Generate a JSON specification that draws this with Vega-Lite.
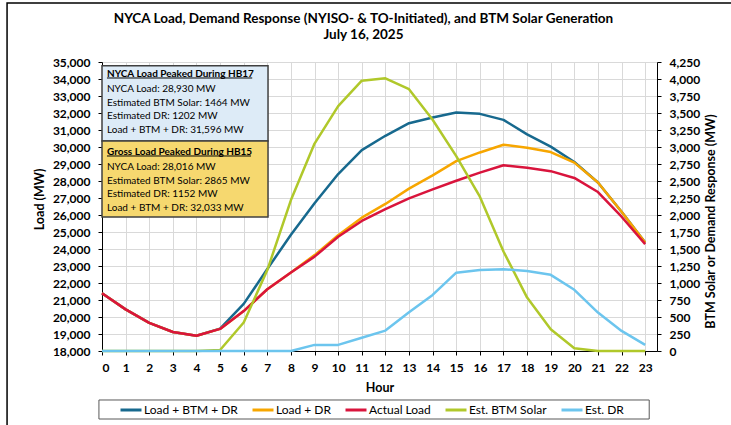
{
  "$schema": "https://vega.github.io/schema/vega-lite/v6.json",
  "width": 555,
  "height": 289,
  "autosize": {"type": "none"},
  "padding": {"left": 102, "top": 62, "right": 74, "bottom": 74},
  "background": "white",
  "config": {
    "font": "Lato",
    "view": {"stroke": null},
    "axis": {
      "labelFont": "Lato", "labelFontWeight": "bold", "labelFontSize": 12, "labelColor": "#000000",
      "titleFont": "Lato", "titleFontWeight": "bold", "titleFontSize": 12.5, "titleColor": "#000000",
      "domainColor": "#000000", "domainWidth": 1, "tickColor": "#000000", "tickSize": 4,
      "gridColor": "#d9d9d9", "gridWidth": 1, "labelOverlap": false
    }
  },
  "title": {
    "text": ["NYCA Load, Demand Response (NYISO- & TO-Initiated), and BTM Solar Generation", "July 16, 2025"],
    "font": "Lato", "fontSize": 13.5, "fontWeight": "bold", "color": "#000000",
    "anchor": "middle", "dx": -16, "offset": -39.5, "lineHeight": 16
  },
  "datasets": {
    "hourly": [
      {"hour": 0, "actual": 21400, "solar": 0, "dr": 0, "load_dr": 21400, "total": 21400},
      {"hour": 1, "actual": 20450, "solar": 0, "dr": 0, "load_dr": 20450, "total": 20450},
      {"hour": 2, "actual": 19650, "solar": 0, "dr": 0, "load_dr": 19650, "total": 19650},
      {"hour": 3, "actual": 19120, "solar": 0, "dr": 0, "load_dr": 19120, "total": 19120},
      {"hour": 4, "actual": 18900, "solar": 0, "dr": 0, "load_dr": 18900, "total": 18900},
      {"hour": 5, "actual": 19300, "solar": 15, "dr": 0, "load_dr": 19300, "total": 19315},
      {"hour": 6, "actual": 20350, "solar": 420, "dr": 0, "load_dr": 20350, "total": 20770},
      {"hour": 7, "actual": 21630, "solar": 1190, "dr": 0, "load_dr": 21630, "total": 22820},
      {"hour": 8, "actual": 22620, "solar": 2220, "dr": 0, "load_dr": 22620, "total": 24840},
      {"hour": 9, "actual": 23550, "solar": 3050, "dr": 90, "load_dr": 23640, "total": 26690},
      {"hour": 10, "actual": 24720, "solar": 3600, "dr": 90, "load_dr": 24810, "total": 28410},
      {"hour": 11, "actual": 25650, "solar": 3975, "dr": 195, "load_dr": 25845, "total": 29820},
      {"hour": 12, "actual": 26350, "solar": 4010, "dr": 300, "load_dr": 26650, "total": 30660},
      {"hour": 13, "actual": 26980, "solar": 3850, "dr": 570, "load_dr": 27550, "total": 31400},
      {"hour": 14, "actual": 27510, "solar": 3400, "dr": 825, "load_dr": 28335, "total": 31735},
      {"hour": 15, "actual": 28016, "solar": 2865, "dr": 1152, "load_dr": 29168, "total": 32033},
      {"hour": 16, "actual": 28490, "solar": 2270, "dr": 1190, "load_dr": 29680, "total": 31950},
      {"hour": 17, "actual": 28930, "solar": 1464, "dr": 1202, "load_dr": 30132, "total": 31596},
      {"hour": 18, "actual": 28780, "solar": 785, "dr": 1175, "load_dr": 29955, "total": 30740},
      {"hour": 19, "actual": 28580, "solar": 320, "dr": 1120, "load_dr": 29700, "total": 30020},
      {"hour": 20, "actual": 28180, "solar": 40, "dr": 900, "load_dr": 29080, "total": 29120},
      {"hour": 21, "actual": 27350, "solar": 0, "dr": 565, "load_dr": 27915, "total": 27915},
      {"hour": 22, "actual": 25900, "solar": 0, "dr": 295, "load_dr": 26195, "total": 26195},
      {"hour": 23, "actual": 24290, "solar": 0, "dr": 90, "load_dr": 24380, "total": 24380}
    ],
    "boxes": [
      {"box": "HB17", "x": 0, "x2": 7.03, "y": 30353, "y2": 34780},
      {"box": "HB15", "x": 0, "x2": 7.03, "y": 25882, "y2": 30353}
    ],
    "notes": [
      {"box": "HB17", "kind": "header", "text": "NYCA Load Peaked During HB17", "hour": 0.21, "mw": 34294},
      {"box": "HB17", "kind": "body", "text": "NYCA Load: 28,930 MW", "hour": 0.21, "mw": 33412},
      {"box": "HB17", "kind": "body", "text": "Estimated BTM Solar: 1464 MW", "hour": 0.21, "mw": 32588},
      {"box": "HB17", "kind": "body", "text": "Estimated DR: 1202 MW", "hour": 0.21, "mw": 31824},
      {"box": "HB17", "kind": "body", "text": "Load + BTM + DR: 31,596 MW", "hour": 0.21, "mw": 31000},
      {"box": "HB15", "kind": "header", "text": "Gross Load Peaked During HB15", "hour": 0.21, "mw": 29706},
      {"box": "HB15", "kind": "body", "text": "NYCA Load: 28,016 MW", "hour": 0.21, "mw": 28824},
      {"box": "HB15", "kind": "body", "text": "Estimated BTM Solar: 2865 MW", "hour": 0.21, "mw": 28000},
      {"box": "HB15", "kind": "body", "text": "Estimated DR: 1152 MW", "hour": 0.21, "mw": 27235},
      {"box": "HB15", "kind": "body", "text": "Load + BTM + DR: 32,033 MW", "hour": 0.21, "mw": 26412}
    ],
    "underlines": [
      {"box": "HB17", "x": 0.21, "x2": 6.36, "mw": 34059},
      {"box": "HB15", "x": 0.21, "x2": 6.31, "mw": 29471}
    ]
  },
  "layer": [
    {
      "layer": [
        {
          "data": {"name": "hourly"},
          "mark": {"type": "line", "strokeWidth": 2.5, "strokeJoin": "round"},
          "encoding": {
            "x": {"field": "hour", "type": "quantitative", "scale": {"domain": [0, 23.5], "nice": false, "zero": false}, "axis": {"values": [0,1,2,3,4,5,6,7,8,9,10,11,12,13,14,15,16,17,18,19,20,21,22,23], "title": "Hour", "labelPadding": 7, "titlePadding": 8, "grid": true}},
            "y": {"field": "total", "type": "quantitative", "scale": {"domain": [18000, 35000], "nice": false, "zero": false}, "axis": {"orient": "left", "values": [18000,19000,20000,21000,22000,23000,24000,25000,26000,27000,28000,29000,30000,31000,32000,33000,34000,35000], "format": ",d", "title": "Load (MW)", "titleY": 137, "labelPadding": 8, "titlePadding": 6, "grid": true}},
            "color": {"datum": "Load + BTM + DR", "type": "nominal"}
          }
        },
        {
          "data": {"name": "hourly"},
          "mark": {"type": "line", "strokeWidth": 2.5, "strokeJoin": "round"},
          "encoding": {
            "x": {"field": "hour", "type": "quantitative", "axis": {"values": [0,1,2,3,4,5,6,7,8,9,10,11,12,13,14,15,16,17,18,19,20,21,22,23], "title": "Hour", "labelPadding": 7, "titlePadding": 8, "grid": true}},
            "y": {"field": "load_dr", "type": "quantitative", "axis": {"orient": "left", "values": [18000,19000,20000,21000,22000,23000,24000,25000,26000,27000,28000,29000,30000,31000,32000,33000,34000,35000], "format": ",d", "title": "Load (MW)", "titleY": 137, "labelPadding": 8, "titlePadding": 6, "grid": true}},
            "color": {"datum": "Load + DR", "type": "nominal"}
          }
        },
        {
          "data": {"name": "hourly"},
          "mark": {"type": "line", "strokeWidth": 2.5, "strokeJoin": "round"},
          "encoding": {
            "x": {"field": "hour", "type": "quantitative", "axis": {"values": [0,1,2,3,4,5,6,7,8,9,10,11,12,13,14,15,16,17,18,19,20,21,22,23], "title": "Hour", "labelPadding": 7, "titlePadding": 8, "grid": true}},
            "y": {"field": "actual", "type": "quantitative", "axis": {"orient": "left", "values": [18000,19000,20000,21000,22000,23000,24000,25000,26000,27000,28000,29000,30000,31000,32000,33000,34000,35000], "format": ",d", "title": "Load (MW)", "titleY": 137, "labelPadding": 8, "titlePadding": 6, "grid": true}},
            "color": {"datum": "Actual Load", "type": "nominal"}
          }
        },
        {
          "data": {"name": "boxes"},
          "mark": {"type": "rect", "stroke": "#404040", "strokeWidth": 1.5},
          "encoding": {
            "x": {"field": "x", "type": "quantitative", "axis": {"values": [0,1,2,3,4,5,6,7,8,9,10,11,12,13,14,15,16,17,18,19,20,21,22,23], "title": "Hour", "labelPadding": 7, "titlePadding": 8, "grid": true}},
            "x2": {"field": "x2"},
            "y": {"field": "y", "type": "quantitative", "axis": {"orient": "left", "values": [18000,19000,20000,21000,22000,23000,24000,25000,26000,27000,28000,29000,30000,31000,32000,33000,34000,35000], "format": ",d", "title": "Load (MW)", "titleY": 137, "labelPadding": 8, "titlePadding": 6, "grid": true}},
            "y2": {"field": "y2"},
            "fill": {"field": "box", "type": "nominal", "scale": {"domain": ["HB17", "HB15"], "range": ["#ddebf7", "#f6d86f"]}, "legend": null}
          }
        },
        {
          "data": {"name": "notes"},
          "transform": [{"filter": "datum.kind === 'header'"}],
          "mark": {"type": "text", "align": "left", "baseline": "middle", "font": "Lato", "fontSize": 10, "fontWeight": "bold", "color": "#000000"},
          "encoding": {
            "x": {"field": "hour", "type": "quantitative", "axis": {"values": [0,1,2,3,4,5,6,7,8,9,10,11,12,13,14,15,16,17,18,19,20,21,22,23], "title": "Hour", "labelPadding": 7, "titlePadding": 8, "grid": true}},
            "y": {"field": "mw", "type": "quantitative", "axis": {"orient": "left", "values": [18000,19000,20000,21000,22000,23000,24000,25000,26000,27000,28000,29000,30000,31000,32000,33000,34000,35000], "format": ",d", "title": "Load (MW)", "titleY": 137, "labelPadding": 8, "titlePadding": 6, "grid": true}},
            "text": {"field": "text"}
          }
        },
        {
          "data": {"name": "notes"},
          "transform": [{"filter": "datum.kind === 'body'"}],
          "mark": {"type": "text", "align": "left", "baseline": "middle", "font": "Lato", "fontSize": 10, "color": "#000000"},
          "encoding": {
            "x": {"field": "hour", "type": "quantitative", "axis": {"values": [0,1,2,3,4,5,6,7,8,9,10,11,12,13,14,15,16,17,18,19,20,21,22,23], "title": "Hour", "labelPadding": 7, "titlePadding": 8, "grid": true}},
            "y": {"field": "mw", "type": "quantitative", "axis": {"orient": "left", "values": [18000,19000,20000,21000,22000,23000,24000,25000,26000,27000,28000,29000,30000,31000,32000,33000,34000,35000], "format": ",d", "title": "Load (MW)", "titleY": 137, "labelPadding": 8, "titlePadding": 6, "grid": true}},
            "text": {"field": "text"}
          }
        },
        {
          "data": {"name": "underlines"},
          "mark": {"type": "rule", "color": "#000000", "strokeWidth": 1},
          "encoding": {
            "x": {"field": "x", "type": "quantitative", "axis": {"values": [0,1,2,3,4,5,6,7,8,9,10,11,12,13,14,15,16,17,18,19,20,21,22,23], "title": "Hour", "labelPadding": 7, "titlePadding": 8, "grid": true}},
            "x2": {"field": "x2"},
            "y": {"field": "mw", "type": "quantitative", "axis": {"orient": "left", "values": [18000,19000,20000,21000,22000,23000,24000,25000,26000,27000,28000,29000,30000,31000,32000,33000,34000,35000], "format": ",d", "title": "Load (MW)", "titleY": 137, "labelPadding": 8, "titlePadding": 6, "grid": true}}
          }
        },
        {
          "data": {"name": "boxes"},
          "transform": [{"filter": "datum.box === 'HB17'"}],
          "mark": {"type": "rect", "fill": null, "stroke": "#595959", "strokeWidth": 1},
          "encoding": {
            "x": {"datum": -0.13, "type": "quantitative", "axis": {"values": [0,1,2,3,4,5,6,7,8,9,10,11,12,13,14,15,16,17,18,19,20,21,22,23], "title": "Hour", "labelPadding": 7, "titlePadding": 8, "grid": true}},
            "x2": {"datum": 23.17},
            "y": {"datum": 14000, "type": "quantitative", "axis": {"orient": "left", "values": [18000,19000,20000,21000,22000,23000,24000,25000,26000,27000,28000,29000,30000,31000,32000,33000,34000,35000], "format": ",d", "title": "Load (MW)", "titleY": 137, "labelPadding": 8, "titlePadding": 6, "grid": true}},
            "y2": {"datum": 15118}
          }
        },
        {
          "data": {"name": "boxes"},
          "transform": [{"filter": "datum.box === 'HB17'"}],
          "mark": {"type": "rect", "fill": null, "stroke": "#000000", "strokeWidth": 1.5},
          "encoding": {
            "x": {"datum": -4.02, "type": "quantitative", "axis": {"values": [0,1,2,3,4,5,6,7,8,9,10,11,12,13,14,15,16,17,18,19,20,21,22,23], "title": "Hour", "labelPadding": 7, "titlePadding": 8, "grid": true}},
            "x2": {"datum": 27.0},
            "y": {"datum": 12765, "type": "quantitative", "axis": {"orient": "left", "values": [18000,19000,20000,21000,22000,23000,24000,25000,26000,27000,28000,29000,30000,31000,32000,33000,34000,35000], "format": ",d", "title": "Load (MW)", "titleY": 137, "labelPadding": 8, "titlePadding": 6, "grid": true}},
            "y2": {"datum": 38470}
          }
        }
      ]
    },
    {
      "layer": [
        {
          "data": {"name": "hourly"},
          "mark": {"type": "line", "strokeWidth": 2.5, "strokeJoin": "round"},
          "encoding": {
            "x": {"field": "hour", "type": "quantitative", "axis": {"values": [0,1,2,3,4,5,6,7,8,9,10,11,12,13,14,15,16,17,18,19,20,21,22,23], "title": "Hour", "labelPadding": 7, "titlePadding": 8, "grid": true}},
            "y": {"field": "solar", "type": "quantitative", "scale": {"domain": [0, 4250], "nice": false, "zero": false}, "axis": {"orient": "right", "values": [0,250,500,750,1000,1250,1500,1750,2000,2250,2500,2750,3000,3250,3500,3750,4000,4250], "format": ",d", "title": "BTM Solar or Demand Response (MW)", "titleAngle": 270, "titleBaseline": "top", "titleY": 159, "labelPadding": 8, "titlePadding": 5, "grid": false}},
            "color": {"datum": "Est. BTM Solar", "type": "nominal"}
          }
        },
        {
          "data": {"name": "hourly"},
          "mark": {"type": "line", "strokeWidth": 2.5, "strokeJoin": "round"},
          "encoding": {
            "x": {"field": "hour", "type": "quantitative", "axis": {"values": [0,1,2,3,4,5,6,7,8,9,10,11,12,13,14,15,16,17,18,19,20,21,22,23], "title": "Hour", "labelPadding": 7, "titlePadding": 8, "grid": true}},
            "y": {"field": "dr", "type": "quantitative", "axis": {"orient": "right", "values": [0,250,500,750,1000,1250,1500,1750,2000,2250,2500,2750,3000,3250,3500,3750,4000,4250], "format": ",d", "title": "BTM Solar or Demand Response (MW)", "titleAngle": 270, "titleBaseline": "top", "titleY": 159, "labelPadding": 8, "titlePadding": 5, "grid": false}},
            "color": {
              "datum": "Est. DR", "type": "nominal",
              "scale": {"domain": ["Load + BTM + DR", "Load + DR", "Actual Load", "Est. BTM Solar", "Est. DR"], "range": ["#17698e", "#f7a600", "#d9143c", "#b0c82a", "#6cc5ee"]},
              "legend": {"orient": "none", "legendX": 17, "legendY": 336, "direction": "horizontal", "title": null, "symbolType": "stroke", "symbolStrokeWidth": 3, "symbolSize": 441, "labelFont": "Lato", "labelFontSize": 12, "labelColor": "#000000", "labelOffset": 1, "columnPadding": 8, "padding": 0}
            }
          }
        }
      ]
    }
  ],
  "resolve": {"scale": {"y": "independent"}}
}
